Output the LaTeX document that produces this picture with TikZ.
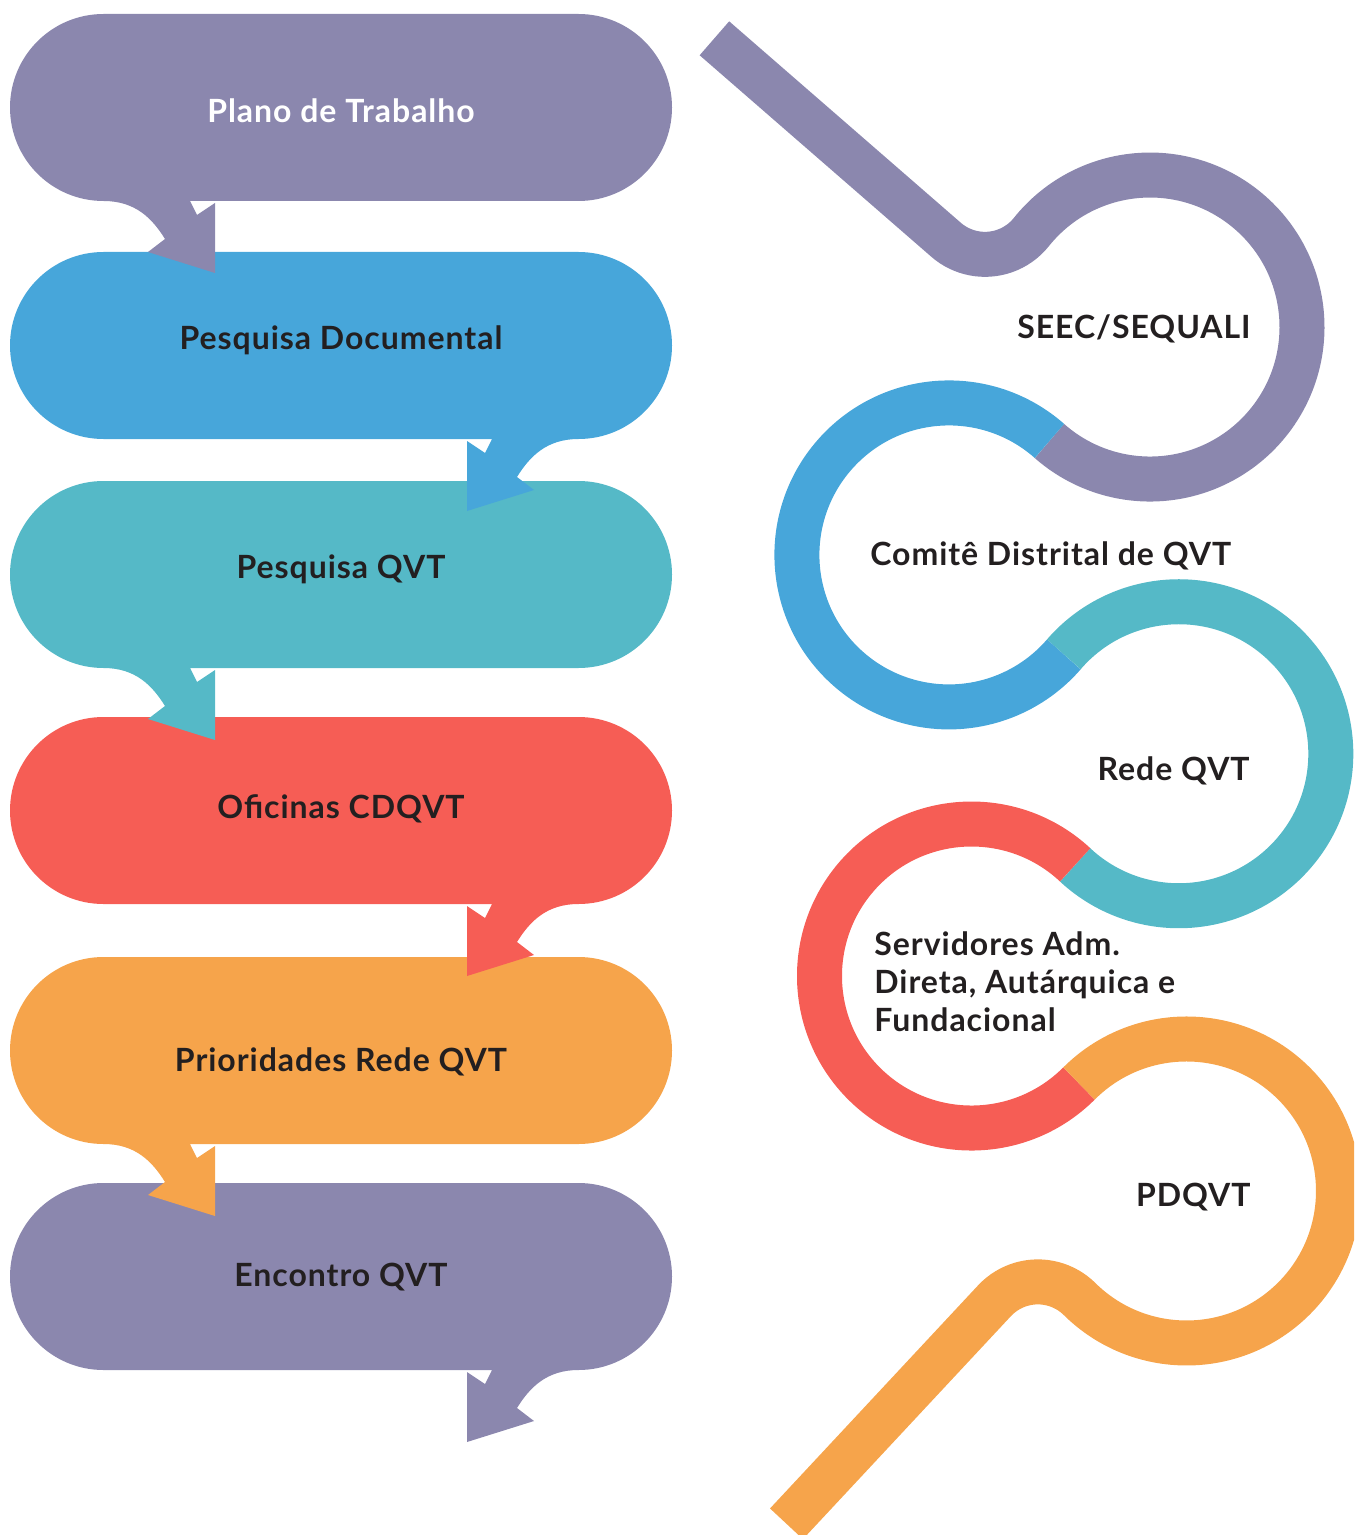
\documentclass[tikz,border=0pt]{standalone}
\usepackage{fontspec}
\setmainfont{Lato}[LetterSpace=3]

\definecolor{roxo}{HTML}{8B87AE}
\definecolor{azul}{HTML}{47A6DA}
\definecolor{turquesa}{HTML}{55B9C7}
\definecolor{coral}{HTML}{F65D55}
\definecolor{laranja}{HTML}{F6A44B}
\definecolor{tinta}{HTML}{231F20}

\tikzset{
  rotulo/.style={font=\fontsize{16}{19}\selectfont\bfseries, text=tinta, inner sep=0pt},
  trilha/.style={line width=22.5pt, line cap=butt},
}

\begin{document}
\begin{tikzpicture}[x=0.5pt,y=-0.5pt]
\clip (0,0) rectangle (1354,1535);

% baloes, de baixo para cima
\fill[roxo] (578.5,1183) -- (103.5,1183) arc[start angle=270,end angle=90,radius=93.5] -- (492,1370) -- (485,1384) -- (467,1372) -- (467,1442) -- (534,1421) -- (517,1408) .. controls (530,1387) and (547,1370) .. (578.5,1370) arc[start angle=90,end angle=-90,radius=93.5] -- cycle;
\fill[laranja] (103.5,957) -- (578.5,957) arc[start angle=-90,end angle=90,radius=93.5] -- (190,1144) -- (197,1158) -- (215,1146) -- (215,1216) -- (148,1195) -- (165,1182) .. controls (152,1161) and (135,1144) .. (103.5,1144) arc[start angle=90,end angle=270,radius=93.5] -- cycle;
\fill[coral] (578.5,717) -- (103.5,717) arc[start angle=270,end angle=90,radius=93.5] -- (492,904) -- (485,918) -- (467,906) -- (467,976) -- (534,955) -- (517,942) .. controls (530,921) and (547,904) .. (578.5,904) arc[start angle=90,end angle=-90,radius=93.5] -- cycle;
\fill[turquesa] (103.5,481) -- (578.5,481) arc[start angle=-90,end angle=90,radius=93.5] -- (190,668) -- (197,682) -- (215,670) -- (215,740) -- (148,719) -- (165,706) .. controls (152,685) and (135,668) .. (103.5,668) arc[start angle=90,end angle=270,radius=93.5] -- cycle;
\fill[azul] (578.5,252) -- (103.5,252) arc[start angle=270,end angle=90,radius=93.5] -- (492,439) -- (485,453) -- (467,441) -- (467,511) -- (534,490) -- (517,477) .. controls (530,456) and (547,439) .. (578.5,439) arc[start angle=90,end angle=-90,radius=93.5] -- cycle;
\fill[roxo] (103.5,14) -- (578.5,14) arc[start angle=-90,end angle=90,radius=93.5] -- (190,201) -- (197,215) -- (215,203) -- (215,273) -- (148,252) -- (165,239) .. controls (152,218) and (135,201) .. (103.5,201) arc[start angle=90,end angle=270,radius=93.5] -- cycle;

\node[rotulo, text=white, anchor=base] (plano) at (341,123) {Plano de Trabalho};
\node[rotulo, anchor=base] (documental) at (341,350) {Pesquisa Documental};
\node[rotulo, anchor=base] (pesquisa) at (341,578) {Pesquisa QVT};
\node[rotulo, anchor=base] (oficinas) at (341,818) {Oficinas CDQVT};
\node[rotulo, anchor=base] (prioridades) at (341,1071) {Prioridades Rede QVT};
\node[rotulo, anchor=base] (encontro) at (341,1286) {Encontro QVT};

% trilha da direita
\draw[trilha, roxo] (714.4,38.3) -- (946.1,239.8) arc[start angle=131,end angle=38.66,radius=59.3] arc[start angle=218.66,end angle=491.42,radius=152];
\draw[trilha, azul] (1049.45,440.95) arc[start angle=311.42,end angle=40.86,radius=152];
\draw[trilha, turquesa] (1063.85,654.3) arc[start angle=220.86,end angle=493,radius=152];
\draw[trilha, coral] (1075.15,864.85) arc[start angle=313,end angle=45,radius=152];
\draw[trilha, laranja] (1079,1083.5) arc[start angle=225,end angle=494.7,radius=152] arc[start angle=314.7,end angle=223,radius=59.3] -- ++(133:305);

\node[rotulo, anchor=base east] (seec) at (1251,339) {SEEC/SEQUALI};
\node[rotulo, anchor=base west] (comite) at (870,565) {Comitê Distrital de QVT};
\node[rotulo, anchor=base east] (rede) at (1250,780) {Rede QVT};
\node[rotulo, anchor=base west, align=left] (servidores) at (874,1031) {Servidores Adm.\\Direta, Autárquica e\\Fundacional};
\node[rotulo, anchor=base east] (pdqvt) at (1251,1206) {PDQVT};
\end{tikzpicture}
\end{document}
